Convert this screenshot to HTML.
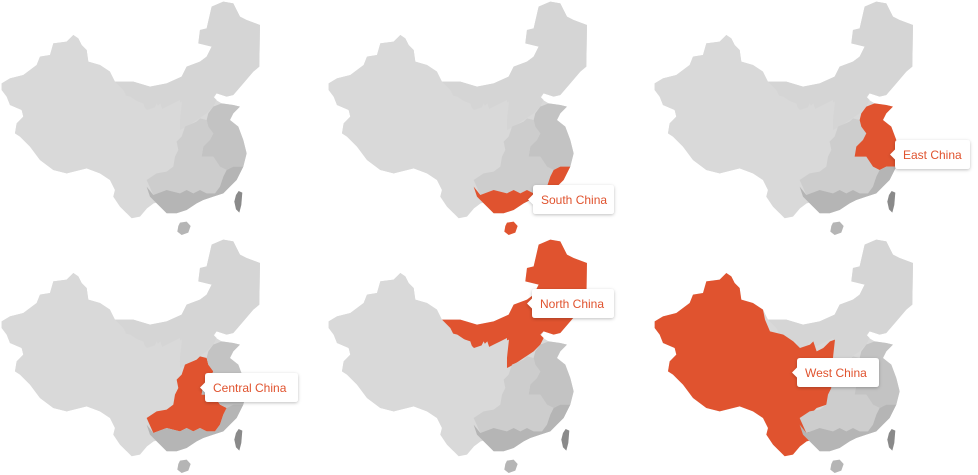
<!DOCTYPE html>
<html><head><meta charset="utf-8"><style>
html,body{margin:0;padding:0;background:#fff;width:978px;height:475px;overflow:hidden}
svg{display:block}
.lbl{font-family:"Liberation Sans",sans-serif;font-size:12px;fill:#e0532f}
</style></head><body>
<svg id="s" width="978" height="475" viewBox="0 0 978 475" xmlns="http://www.w3.org/2000/svg">
<defs><filter id="sh" x="-20%" y="-30%" width="140%" height="160%"><feDropShadow dx="0" dy="1" stdDeviation="1.5" flood-color="#000" flood-opacity="0.25"/></filter></defs>
</svg>
<script>
const outline="5,250 30,235 70,225 110,195 120,170 150,165 160,130 200,125 220,105 235,115 245,135 260,150 265,185 300,195 330,215 345,245 400,245 450,260 500,250 545,230 560,200 600,185 620,170 635,140 595,130 600,90 620,85 635,20 670,5 700,10 720,50 740,60 780,75 778,200 760,215 730,250 700,285 680,290 650,280 640,295 665,310 700,315 720,320 700,340 690,360 715,380 730,420 740,460 730,500 710,540 690,560 670,580 640,590 610,600 590,610 560,630 530,640 500,640 480,620 460,600 440,610 400,625 380,640 360,620 340,590 345,570 330,540 300,520 260,505 200,520 160,510 120,480 90,440 60,410 45,400 50,370 70,350 65,330 30,315 20,290 5,270";
const west="336,245 351,280 391,290 421,310 441,330 471,320 481,310 491,340 511,330 531,310 546,305 541,350 536,400 541,450 531,470 521,500 491,510 471,530 451,540 461,560 471,590 481,605 461,610 441,625 420,650 395,655 380,640 360,620 340,590 345,570 330,540 300,520 260,505 200,520 160,510 120,480 90,440 60,410 45,400 50,370 70,350 65,330 30,315 20,290 5,270 5,250 30,235 70,225 110,195 120,170 150,165 160,130 200,125 220,105 235,115 245,135 260,150 265,185 300,195 330,215";
const north="345,245 370,270 380,290 400,300 430,310 440,340 460,330 470,310 480,330 500,320 520,310 540,300 540,390 560,380 590,360 620,340 640,320 650,300 640,290 650,280 680,290 700,285 730,250 760,215 778,200 780,75 740,60 720,50 700,10 670,5 635,20 620,85 600,90 595,130 635,140 620,170 600,185 560,200 545,230 500,250 450,260 400,245";
const central="440,540 470,520 500,515 520,500 525,470 535,450 530,425 545,410 555,380 590,365 600,355 620,360 625,380 640,400 630,420 610,440 605,470 640,470 660,500 680,510 670,530 660,560 645,580 620,580 600,570 580,580 560,570 540,580 500,570 460,585";
const east="625,340 640,320 665,310 700,315 720,320 700,340 690,360 715,380 730,420 740,460 730,500 700,500 680,510 660,500 640,470 605,470 610,440 630,420 640,400 625,380 620,360";
const south="440,560 460,585 500,570 540,580 560,570 580,580 600,570 620,580 645,580 660,560 670,530 680,510 700,500 730,500 710,540 690,560 670,580 640,590 610,600 590,610 560,630 530,640 500,640 480,620 460,600 450,590";
const taiwan="716,573 727,578 724,615 718,638 708,628 703,605 708,585";
const hainan="540,668 560,665 572,678 565,698 545,705 532,695 535,678";
const maps=[
 {x:0,y:0,hl:null,label:null},
 {x:327,y:0,hl:"south",label:"South China",bx:533,by:185,bw:81},
 {x:653,y:0,hl:"east",label:"East China",bx:895,by:140,bw:75},
 {x:0,y:238,hl:"central",label:"Central China",bx:205,by:373,bw:93},
 {x:327,y:238,hl:"north",label:"North China",bx:532,by:289,bw:82},
 {x:653,y:238,hl:"west",label:"West China",bx:797,by:358,bw:82}
];
const OR="#e0532f";
const NS="http://www.w3.org/2000/svg";
const svg=document.getElementById('s');
function poly(g,pts,fill,name){
 const p=document.createElementNS(NS,'polygon');
 p.setAttribute('points',pts);p.setAttribute('fill',fill);
 
 
 g.appendChild(p);return p;
}
maps.forEach((m,i)=>{
 const g=document.createElementNS(NS,'g');
 g.setAttribute('transform',`translate(${m.x},${m.y}) scale(0.3333)`);
 
 
 svg.appendChild(g);
 poly(g,outline,"#d9d9d9",'china-outline');
 poly(g,north,m.hl==="north"?OR:"#d5d5d5",'north-china-region');
 poly(g,west,m.hl==="west"?OR:"#d9d9d9",'west-china-region');
 poly(g,central,m.hl==="central"?OR:"#cdcdcd",'central-china-region');
 poly(g,east,m.hl==="east"?OR:"#c3c3c3",'east-china-region');
 poly(g,south,m.hl==="south"?OR:"#b5b5b5",'south-china-region');
 poly(g,hainan,m.hl==="south"?OR:"#b5b5b5",'hainan-island');
 poly(g,taiwan,"#8a8a8a",'taiwan-island');
 if(m.label){
  const lg=document.createElementNS(NS,'g');
  
  
  lg.setAttribute('filter','url(#sh)');
  svg.appendChild(lg);
  const r=document.createElementNS(NS,'path');
  const x=m.bx,y=m.by,w=m.bw,hh=29,c=y+hh/2;
  r.setAttribute('d',`M${x+3},${y} H${x+w-3} Q${x+w},${y} ${x+w},${y+3} V${y+hh-3} Q${x+w},${y+hh} ${x+w-3},${y+hh} H${x+3} Q${x},${y+hh} ${x},${y+hh-3} V${c+5} L${x-5},${c} L${x},${c-5} V${y+3} Q${x},${y} ${x+3},${y} Z`);
  r.setAttribute('fill','#fff');
  
  
  lg.appendChild(r);
  const t=document.createElementNS(NS,'text');
  t.setAttribute('x',m.bx+8);t.setAttribute('y',m.by+19);t.setAttribute('class','lbl');
  t.textContent=m.label;
  
  
  lg.appendChild(t);
 }
});
</script>
</body></html>
